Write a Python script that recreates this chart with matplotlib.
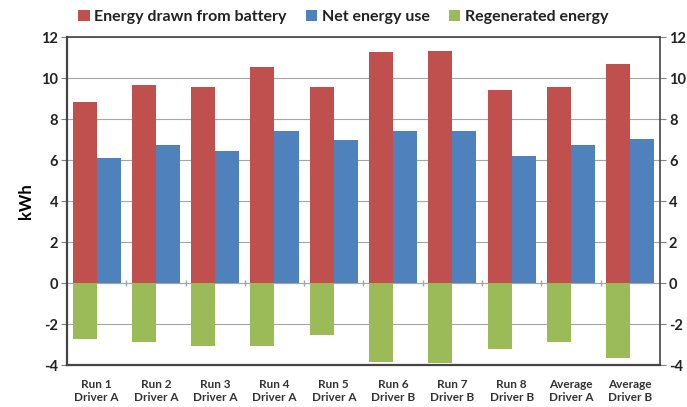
import matplotlib.pyplot as plt
import numpy as np

plt.rcParams['font.family'] = ['Lato', 'DejaVu Sans']
plt.rcParams['axes.unicode_minus'] = False

## Data
categories = ["Run 1\nDriver A", "Run 2\nDriver A", "Run 3\nDriver A", "Run 4\nDriver A",
              "Run 5\nDriver A", "Run 6\nDriver B", "Run 7\nDriver B", "Run 8\nDriver B",
              "Average\nDriver A", "Average\nDriver B"]
battery = [8.84, 9.64, 9.54, 10.52, 9.54, 11.28, 11.32, 9.44, 9.58, 10.68]
net_use = [6.10, 6.72, 6.44, 7.40, 7.00, 7.44, 7.41, 6.21, 6.72, 7.04]
regen = [-2.72, -2.88, -3.05, -3.08, -2.53, -3.85, -3.90, -3.24, -2.88, -3.65]

red = '#C0504D'
blue = '#4F81BD'
green = '#9BBB59'

fig = plt.figure(figsize=(6.87, 4.07), dpi=100)
ax = fig.add_axes([0.0975, 0.103, 0.863, 0.806])

x = np.arange(len(categories))
w = 0.405
ax.bar(x - w / 2, battery, w, color=red, label='Energy drawn from battery', zorder=2)
ax.bar(x + w / 2, net_use, w, color=blue, label='Net energy use', zorder=2)
ax.bar(x - w / 2, regen, w, color=green, label='Regenerated energy', zorder=2)

ax.set_xlim(-0.5, len(categories) - 0.5)
ax.set_ylim(-4, 12)
ax.set_yticks(range(-4, 13, 2))
ax.yaxis.grid(True, color='#a6a6a6', linewidth=0.8, zorder=0)
ax.axhline(0, color='#a6a6a6', linewidth=0.8, zorder=1)

# small category ticks on the zero line
ax.plot(x[1:] - 0.5, np.zeros(len(x) - 1), linestyle='none', marker='|',
        color='#a6a6a6', markersize=5, zorder=1)

ax.set_xticks(x)
ax.set_xticklabels(categories, fontsize=8.5, fontweight='bold', color='#333333')
ax.tick_params(axis='x', length=0, pad=10)
ax.tick_params(axis='y', labelsize=10.5, length=4, color='#808080', labelcolor='#222222',
               right=True, labelright=True, pad=2.5)
for lab in ax.get_yticklabels():
    lab.set_fontweight('bold')

for s in ['left', 'bottom']:
    ax.spines[s].set_color('#444444')
    ax.spines[s].set_linewidth(1.6)
for s in ['top', 'right']:
    ax.spines[s].set_color('#444444')
    ax.spines[s].set_linewidth(1.2)

ax.set_ylabel('kWh', fontsize=12, fontweight='bold', labelpad=5)

leg = fig.legend(loc='upper center', bbox_to_anchor=(0.5, 1.01), ncol=3, frameon=False,
                 prop={'size': 11.5, 'weight': 'bold'}, handlelength=0.7, handleheight=0.7,
                 handletextpad=0.3, columnspacing=1.2)
for t in leg.get_texts():
    t.set_color('#222222')

fig.savefig('out.png', dpi=100)
